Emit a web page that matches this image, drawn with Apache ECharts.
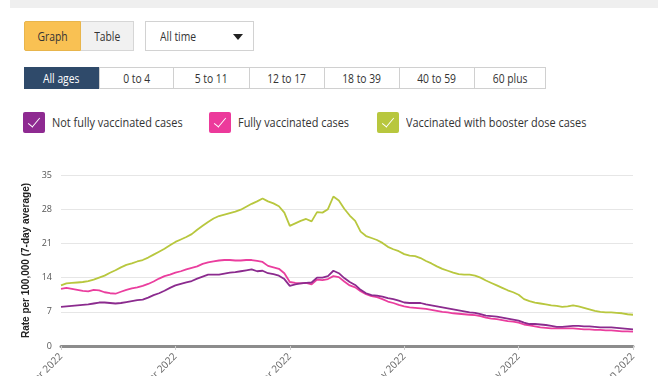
<!DOCTYPE html>
<html>
<head>
<meta charset="utf-8">
<script src="https://cdn.jsdelivr.net/npm/echarts@6/dist/echarts.min.js"></script>
<style>
  body { margin:0; width:668px; height:376px; overflow:hidden; background:#fff; font-family:'Open Sans', sans-serif; color:#333; position:relative; }
  .band { position:absolute; left:10px; top:0; width:648px; height:8px; background:#efefef; }
  .btn { position:absolute; box-sizing:border-box; font-size:12px; display:flex; align-items:center; justify-content:center; }
  .btn span { display:inline-block; transform:scaleX(.86); }
  .legend { position:absolute; top:111px; height:22px; display:flex; align-items:center; font-size:13px; color:#333; }
  .legend i { display:block; width:22px; height:21px; border-radius:2px; position:relative; margin-right:7px; }
  .legend i:after { content:''; position:absolute; left:8px; top:3px; width:5px; height:11px; border:solid #fff; border-width:0 1.5px 1.5px 0; transform:rotate(40deg); }
  .legend span { display:inline-block; transform:scaleX(.84); transform-origin:left center; white-space:nowrap; }
  #chart { position:absolute; left:0; top:150px; width:668px; height:226px; }
</style>
</head>
<body>
<div class="band"></div>

<div class="btn" style="left:24px;top:21px;width:57px;height:30px;background:#f9c153;border:1px solid #e8b54c;border-radius:2px 0 0 2px;"><span>Graph</span></div>
<div class="btn" style="left:81px;top:21px;width:53px;height:30px;background:#f1f1f1;border:1px solid #d6d6d6;border-left:none;"><span>Table</span></div>
<div class="btn" style="left:145px;top:21px;width:109px;height:30px;background:#fff;border:1px solid #d2d2d2;justify-content:flex-start;padding-left:14px;"><span style="transform-origin:left center">All time</span>
  <svg width="10" height="6" style="position:absolute;left:87px;top:12px"><path d="M0 0 L10 0 L5 6 Z" fill="#222"/></svg></div>

<div class="btn" style="left:24px;top:67px;width:75px;height:22px;background:#2f4a6a;color:#fff;border:1px solid #2f4a6a;"><span>All ages</span></div>
<div class="btn" style="left:99px;top:67px;width:75px;height:22px;background:#fff;border:1px solid #d0d0d0;"><span>0 to 4</span></div>
<div class="btn" style="left:174px;top:67px;width:76px;height:22px;background:#fff;border:1px solid #d0d0d0;border-left:none;"><span>5 to 11</span></div>
<div class="btn" style="left:250px;top:67px;width:75px;height:22px;background:#fff;border:1px solid #d0d0d0;border-left:none;"><span>12 to 17</span></div>
<div class="btn" style="left:325px;top:67px;width:75px;height:22px;background:#fff;border:1px solid #d0d0d0;border-left:none;"><span>18 to 39</span></div>
<div class="btn" style="left:400px;top:67px;width:75px;height:22px;background:#fff;border:1px solid #d0d0d0;border-left:none;"><span>40 to 59</span></div>
<div class="btn" style="left:475px;top:67px;width:71px;height:22px;background:#fff;border:1px solid #d0d0d0;border-left:none;"><span>60 plus</span></div>

<div class="legend" style="left:23px"><i style="background:#8e2a91"></i><span>Not fully vaccinated cases</span></div>
<div class="legend" style="left:209px"><i style="background:#ec3a9b"></i><span>Fully vaccinated cases</span></div>
<div class="legend" style="left:377px"><i style="background:#b8c73e"></i><span>Vaccinated with booster dose cases</span></div>

<div id="chart"></div>

<script>
// daily rate per 100,000 (7-day average), from 01 Mar 2022
var startDate = new Date(2022, 2, 1);
var dayCount = 106;
var yTicks = [0, 7, 14, 21, 28, 35];

var notFully = [8.0, 8.1, 8.2, 8.3, 8.4, 8.5, 8.7, 8.9, 8.9, 8.8, 8.7, 8.8, 9.0, 9.2, 9.4, 9.5, 9.9, 10.4, 10.8, 11.3,
  11.9, 12.4, 12.7, 13.0, 13.3, 13.8, 14.2, 14.6, 14.6, 14.6, 14.8, 15.0, 15.1, 15.3, 15.5, 15.7, 15.3, 15.4, 14.9, 14.7,
  14.4, 13.7, 12.3, 12.6, 12.8, 12.9, 13.0, 14.0, 14.0, 14.3, 15.4, 14.9, 13.9, 13.1, 12.5, 11.5, 10.8, 10.4, 10.3, 10.1,
  9.8, 9.6, 9.3, 8.9, 8.8, 8.8, 8.8, 8.5, 8.3, 8.1, 7.9, 7.7, 7.5, 7.3, 7.1, 6.9, 6.8, 6.5, 6.2, 6.1,
  6.0, 5.8, 5.6, 5.4, 5.2, 4.8, 4.5, 4.5, 4.4, 4.3, 4.1, 3.9, 3.9, 4.0, 4.1, 4.1, 4.0, 4.0, 3.9, 3.8,
  3.8, 3.8, 3.7, 3.6, 3.5, 3.4];

var fully = [11.7, 11.9, 11.7, 11.5, 11.3, 11.2, 11.5, 11.4, 11.0, 10.8, 10.7, 11.1, 11.5, 11.8, 12.0, 12.3, 12.7, 13.2, 13.8, 14.3,
  14.6, 15.0, 15.3, 15.7, 16.0, 16.3, 16.8, 17.1, 17.3, 17.5, 17.6, 17.6, 17.5, 17.5, 17.6, 17.6, 17.4, 17.2, 16.4, 16.1,
  15.8, 14.9, 13.1, 12.9, 12.8, 12.9, 12.6, 13.6, 13.5, 13.7, 14.3, 14.1, 13.2, 12.4, 12.0, 11.2, 10.6, 10.2, 10.0, 9.6,
  9.1, 8.8, 8.4, 8.1, 7.9, 7.8, 7.7, 7.6, 7.4, 7.2, 7.0, 6.9, 6.7, 6.6, 6.5, 6.4, 6.3, 6.1, 5.8, 5.6,
  5.5, 5.3, 5.1, 5.0, 4.8, 4.4, 4.2, 4.0, 3.8, 3.7, 3.6, 3.6, 3.6, 3.6, 3.6, 3.5, 3.4, 3.4, 3.3, 3.3,
  3.2, 3.2, 3.1, 3.0, 3.0, 2.95];

var booster = [12.4, 12.8, 12.9, 13.0, 13.1, 13.3, 13.6, 14.0, 14.4, 15.0, 15.5, 16.1, 16.6, 16.9, 17.3, 17.6, 18.1, 18.7, 19.3, 19.9,
  20.6, 21.3, 21.8, 22.3, 22.9, 23.8, 24.6, 25.4, 26.1, 26.6, 26.9, 27.2, 27.5, 27.9, 28.5, 29.1, 29.6, 30.2, 29.6, 29.2,
  28.6, 27.3, 24.6, 25.1, 25.6, 26.0, 25.5, 27.4, 27.3, 28.0, 30.6, 29.8, 28.1, 26.7, 25.6, 23.4, 22.5, 22.1, 21.7, 21.1,
  20.3, 19.8, 19.4, 18.8, 18.5, 18.4, 18.0, 17.4, 16.9, 16.3, 15.8, 15.4, 15.0, 14.7, 14.6, 14.6, 14.4, 14.0, 13.4, 12.9,
  12.4, 11.9, 11.4, 11.0, 10.5, 9.6, 9.2, 8.9, 8.7, 8.5, 8.3, 8.2, 8.0, 8.1, 8.3, 8.1, 7.8, 7.5, 7.2, 7.0,
  6.9, 6.9, 6.8, 6.7, 6.5, 6.4];

var monthNames = ['Jan','Feb','Mar','Apr','May','Jun','Jul','Aug','Sep','Oct','Nov','Dec'];
var dates = [];
for (var i = 0; i < dayCount; i++) {
  var d = new Date(startDate.getTime());
  d.setDate(d.getDate() + i);
  dates.push(('0' + d.getDate()).slice(-2) + ' ' + monthNames[d.getMonth()] + ' ' + d.getFullYear());
}

var chart = echarts.init(document.getElementById('chart'));
chart.setOption({
  animation: false,
  grid: { left: 61, right: 35, top: 25, bottom: 30, outerBoundsMode: 'none' },
  xAxis: {
    type: 'category',
    data: dates,
    boundaryGap: false,
    axisLine: { lineStyle: { color: '#8c8c8c', width: 3 } },
    axisTick: { show: true, interval: 20, length: 4, lineStyle: { color: '#cfcfcf' } },
    axisLabel: { interval: 20, rotate: 45, fontSize: 10, color: '#666', margin: 9, fontFamily: 'Open Sans' }
  },
  yAxis: {
    type: 'value',
    min: yTicks[0],
    max: yTicks[yTicks.length - 1],
    interval: 7,
    name: 'Rate per 100,000 (7-day average)',
    nameLocation: 'middle',
    nameGap: 27,
    nameTextStyle: { fontSize: 10, fontWeight: 'bold', color: '#222', fontFamily: 'Liberation Sans' },
    axisLine: { show: false },
    axisTick: { show: false },
    axisLabel: { fontSize: 9, color: '#555', margin: 9, fontFamily: 'Open Sans' },
    splitLine: { lineStyle: { color: '#e6e6e6' } }
  },
  series: [
    { name: 'Vaccinated with booster dose cases', type: 'line', data: booster, showSymbol: false,
      lineStyle: { color: '#b8c73e', width: 1.8 }, itemStyle: { color: '#b8c73e' } },
    { name: 'Fully vaccinated cases', type: 'line', data: fully, showSymbol: false,
      lineStyle: { color: '#ea3e9e', width: 1.8 }, itemStyle: { color: '#ea3e9e' } },
    { name: 'Not fully vaccinated cases', type: 'line', data: notFully, showSymbol: false,
      lineStyle: { color: '#8b2b8e', width: 1.8 }, itemStyle: { color: '#8b2b8e' } }
  ]
});
</script>
</body>
</html>
